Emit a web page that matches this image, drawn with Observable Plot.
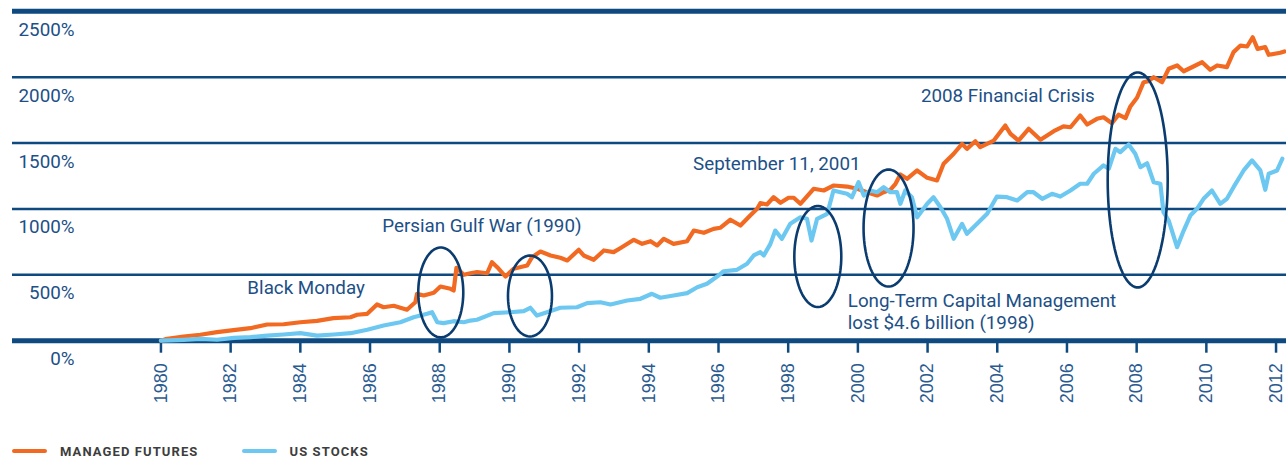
<!DOCTYPE html>
<html><head><meta charset="utf-8">
<script src="https://cdn.jsdelivr.net/npm/d3@7"></script>
<script src="https://cdn.jsdelivr.net/npm/@observablehq/plot@0.6"></script>
<style>
html,body{margin:0;padding:0;background:#fff}
body{width:1286px;height:457px;overflow:hidden;position:relative;font-family:Roboto,sans-serif}
#chart svg{display:block}
#legend{position:absolute;left:0;top:443px;height:16px;display:flex;align-items:center;font-family:Roboto,sans-serif;font-size:13px;font-weight:700;color:#3d3d3d;letter-spacing:1.1px;white-space:nowrap}
.sw{display:inline-block;width:35px;height:4px;border-radius:2px}
</style></head><body>
<div id="chart"></div>
<div id="legend"></div>
<script>
// ---- data ----
const seriesNames = ["MANAGED FUTURES", "US STOCKS"];

const mfYears = [1980.0,1980.13,1980.65,1981.13,1981.61,1982.08,1982.57,1983.05,1983.52,1984.0,
1984.48,1984.95,1985.44,1985.63,1985.92,1986.2,1986.39,1986.68,1987.06,1987.3,
1987.35,1987.54,1987.83,1988.02,1988.31,1988.4,1988.48,1988.69,1988.88,1989.07,
1989.36,1989.5,1989.65,1989.89,1990.12,1990.51,1990.65,1990.89,1991.18,1991.46,
1991.66,1991.99,1992.13,1992.42,1992.71,1992.99,1993.18,1993.57,1993.81,1994.05,
1994.24,1994.43,1994.71,1995.1,1995.29,1995.58,1995.86,1996.05,1996.34,1996.63,
1996.91,1997.11,1997.2,1997.39,1997.58,1997.78,1998.01,1998.16,1998.35,1998.73,
1999.02,1999.31,1999.69,1999.98,2000.26,2000.55,2000.74,2000.93,2001.08,2001.22,
2001.41,2001.7,2001.99,2002.27,2002.46,2002.75,2002.99,2003.13,2003.37,2003.51,
2003.9,2004.23,2004.38,2004.61,2004.9,2005.24,2005.62,2005.9,2006.1,2006.38,
2006.58,2006.86,2007.05,2007.29,2007.48,2007.68,2007.82,2008.01,2008.2,2008.34,
2008.49,2008.73,2008.92,2009.16,2009.35,2009.63,2009.88,2010.11,2010.31,2010.59,
2010.78,2010.98,2011.17,2011.33,2011.47,2011.69,2011.79,2012.12,2012.24];
const mfValues = [0,12,32,45,65,80,95,123,125,140,
151,171,178,197,204,275,254,265,235,292,
356,343,364,411,394,381,553,500,512,520,
512,596,558,487,546,571,634,677,647,629,
609,690,647,614,685,672,702,766,735,755,
723,773,735,755,836,819,849,857,918,874,
950,1001,1044,1034,1089,1047,1085,1085,1039,1153,
1140,1178,1170,1153,1127,1102,1127,1145,1191,1261,
1229,1292,1236,1216,1343,1419,1494,1456,1514,1469,
1519,1633,1570,1519,1608,1525,1590,1626,1620,1709,
1641,1684,1696,1651,1715,1689,1778,1844,1962,1970,
2000,1962,2064,2089,2045,2081,2114,2056,2089,2076,
2190,2240,2233,2303,2215,2228,2170,2185,2195];

const stYears = [1980.0,1980.65,1981.13,1981.61,1982.09,1982.57,1983.05,1983.52,1984.0,1984.48,
1984.96,1985.44,1985.92,1986.39,1986.87,1987.25,1987.64,1987.78,1987.93,1988.11,
1988.4,1988.69,1988.88,1989.07,1989.55,1990.03,1990.41,1990.6,1990.79,1991.08,
1991.46,1991.94,1992.23,1992.61,1992.9,1993.38,1993.76,1994.09,1994.33,1994.71,
1995.1,1995.39,1995.67,1995.96,1996.15,1996.53,1996.82,1997.01,1997.2,1997.3,
1997.49,1997.63,1997.82,1998.06,1998.35,1998.54,1998.67,1998.83,1999.12,1999.3,
1999.5,1999.69,1999.83,2000.02,2000.17,2000.36,2000.55,2000.74,2000.93,2001.12,
2001.22,2001.36,2001.55,2001.7,2001.99,2002.17,2002.37,2002.56,2002.75,2002.99,
2003.13,2003.42,2003.71,2003.99,2004.28,2004.57,2004.86,2005.04,2005.29,2005.57,
2005.81,2006.1,2006.38,2006.58,2006.77,2007.05,2007.2,2007.39,2007.53,2007.77,
2007.96,2008.11,2008.3,2008.49,2008.68,2008.77,2008.92,2009.16,2009.35,2009.54,
2009.73,2009.92,2010.16,2010.4,2010.59,2010.78,2011.07,2011.31,2011.55,2011.69,
2011.79,2012.03,2012.18];
const stValues = [0,7,14,7,22,27,39,47,57,39,
47,57,83,115,140,178,204,216,140,133,
148,140,153,159,209,216,224,250,191,216,
250,254,285,292,275,305,318,356,326,343,
361,406,432,487,527,538,584,647,672,647,
735,836,773,887,937,925,760,925,963,1140,
1127,1115,1089,1203,1102,1140,1127,1165,1127,1127,
1039,1140,1089,937,1039,1089,1013,925,773,887,
811,887,963,1094,1089,1064,1127,1127,1077,1115,
1094,1140,1191,1191,1267,1330,1305,1456,1431,1489,
1419,1317,1347,1203,1191,975,912,710,836,950,
1001,1077,1140,1039,1077,1165,1292,1368,1292,1145,
1267,1292,1381];

const yTicks = [0, 500, 1000, 1500, 2000, 2500];
const xTicks = [1980,1982,1984,1986,1988,1990,1992,1994,1996,1998,2000,2002,2004,2006,2008,2010,2012];

const eventLabels = ["Black Monday", "Persian Gulf War (1990)", "September 11, 2001",
  "2008 Financial Crisis", "Long-Term Capital Management", "lost $4.6 billion (1998)"];

// ---- layout / styling ----
const W = 1286, H = 442, yTopPx = 10.8, yBotPx = 340.2;
const NAVY = "#0e4a80", TEXT = "#1c5087", TICKTEXT = "#2a5b90", ELL = "#0b3c70";
const ORANGE = "#f26a22", BLUE = "#6dc8f1";

const futures = mfYears.map((y, i) => ({year: y, value: mfValues[i]}));
const stocks = stYears.map((y, i) => ({year: y, value: stValues[i]}));

// annotation placement (data coordinates)
const labelPos = [
  {x: 1982.48, y: 401}, {x: 1986.35, y: 874}, {x: 1995.27, y: 1345},
  {x: 2001.81, y: 1861}, {x: 1999.71, y: 305}, {x: 1999.71, y: 138}
];
const annotations = eventLabels.map((t, i) => ({label: t, ...labelPos[i]}));

const ellipseSpecs = [
  {id: 1, cx: 1988.03, cy: 366, rx: 0.646, ry: 341},
  {id: 2, cx: 1990.59, cy: 339, rx: 0.631, ry: 307},
  {id: 3, cx: 1998.85, cy: 639, rx: 0.674, ry: 383},
  {id: 4, cx: 2000.88, cy: 855, rx: 0.717, ry: 444},
  {id: 5, cx: 2008.03, cy: 1220, rx: 0.861, ry: 816}
];
const ellipsePts = ellipseSpecs.flatMap(e => d3.range(0, 361, 4).map(a => ({
  id: e.id,
  x: e.cx + e.rx * Math.cos(a * Math.PI / 180),
  y: e.cy + e.ry * Math.sin(a * Math.PI / 180)
})));

const chart = Plot.plot({
  width: W, height: H,
  marginLeft: 12, marginRight: 0, marginTop: yTopPx, marginBottom: H - yBotPx,
  style: {fontFamily: "Roboto, sans-serif", background: "#fff", overflow: "visible"},
  x: {domain: [1975.74, 2012.30], axis: null},
  y: {domain: [0, 2500], axis: null},
  marks: [
    Plot.ruleY(yTicks.filter(v => v > 0 && v < 2500), {stroke: NAVY, strokeWidth: 2.6}),
    Plot.ruleY([0, 2500], {stroke: NAVY, strokeWidth: 5}),
    Plot.axisX({ticks: xTicks, tickFormat: d => String(d), tickRotate: -90, tickSize: 12.5, tickPadding: 10,
      stroke: NAVY, strokeWidth: 2.5, fill: TICKTEXT, fontSize: 18, fontFamily: "Liberation Sans, Arial, sans-serif"}),
    Plot.line(futures, {x: "year", y: "value", stroke: ORANGE, strokeWidth: 4.2, strokeLinejoin: "round", strokeLinecap: "round"}),
    Plot.line(stocks, {x: "year", y: "value", stroke: BLUE, strokeWidth: 4.2, strokeLinejoin: "round", strokeLinecap: "round"}),
    Plot.text(yTicks, {y: d => d, text: d => d + "%", frameAnchor: "left", dx: 62, dy: 18.5,
      textAnchor: "end", lineAnchor: "middle", fontSize: 18.8, fill: TEXT, style: "letter-spacing:1.6px"}),
    Plot.line(ellipsePts, {x: "x", y: "y", z: "id", stroke: ELL, strokeWidth: 2.6}),
    Plot.text(annotations, {x: "x", y: "y", text: "label", textAnchor: "start", lineAnchor: "middle",
      fontSize: 18.8, fill: TEXT})
  ]
});
document.getElementById("chart").appendChild(chart);

// legend
const legend = document.getElementById("legend");
const colors = [ORANGE, BLUE];
const gaps = [[12, 13, 44], [0, 12, 0]];
seriesNames.forEach((name, i) => {
  const sw = document.createElement("span");
  sw.className = "sw";
  sw.style.background = colors[i];
  sw.style.marginLeft = gaps[i][0] + "px";
  sw.style.marginRight = gaps[i][1] + "px";
  const tx = document.createElement("span");
  tx.textContent = name;
  tx.style.marginRight = gaps[i][2] + "px";
  legend.appendChild(sw);
  legend.appendChild(tx);
});
</script>
</body></html>
